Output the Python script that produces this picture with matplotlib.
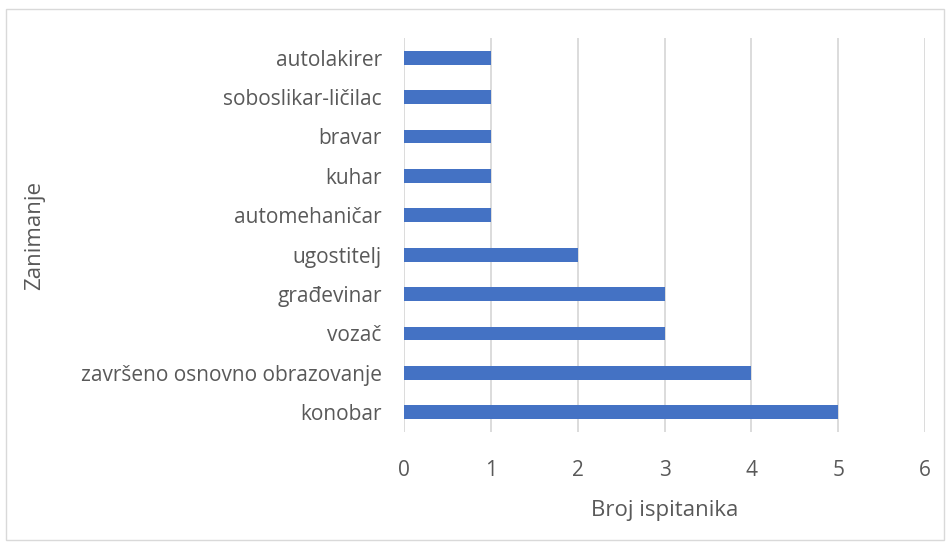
import matplotlib
matplotlib.use('Agg')
import matplotlib.pyplot as plt
from matplotlib.patches import Rectangle

plt.rcParams['font.family'] = ['Open Sans', 'DejaVu Sans']

# podaci: zanimanje ispitanika
zanimanja = ['konobar', 'završeno osnovno obrazovanje', 'vozač', 'građevinar',
             'ugostitelj', 'automehaničar', 'kuhar', 'bravar',
             'soboslikar-ličilac', 'autolakirer']
broj = [5, 4, 3, 3, 2, 1, 1, 1, 1, 1]
x_ticks = [0, 1, 2, 3, 4, 5, 6]

TEXT = '#595959'
GRID = '#D9D9D9'

fig = plt.figure(figsize=(9.49, 5.44), dpi=100)
fig.patches.append(Rectangle((6 / 949, 4 / 544), 938 / 949, 531 / 544,
                             transform=fig.transFigure, fill=False,
                             edgecolor=GRID, linewidth=1))
ax = fig.add_axes([404 / 949, 1 - 432 / 544, 521 / 949, 394 / 544])

ax.barh(range(len(zanimanja)), broj, height=0.355, color='#4472C4', zorder=3)
ax.set_yticks(range(len(zanimanja)))
ax.set_yticklabels(zanimanja)
ax.set_ylim(-0.5, len(zanimanja) - 0.5)
ax.set_xlim(0, 6)
ax.set_xticks(x_ticks)

ax.grid(axis='x', color=GRID, linewidth=1.3, zorder=0)
for s in ax.spines.values():
    s.set_visible(False)
ax.tick_params(length=0, labelsize=15, colors=TEXT)
ax.tick_params(axis='x', pad=20)
ax.tick_params(axis='y', pad=16)

ax.set_xlabel('Broj ispitanika', fontsize=16, color=TEXT, labelpad=14)
ax.set_ylabel('Zanimanje', fontsize=16, color=TEXT)
ax.yaxis.set_label_coords(-(404 - 45) / 521, 0.5)

plt.savefig('out.png', dpi=100)
